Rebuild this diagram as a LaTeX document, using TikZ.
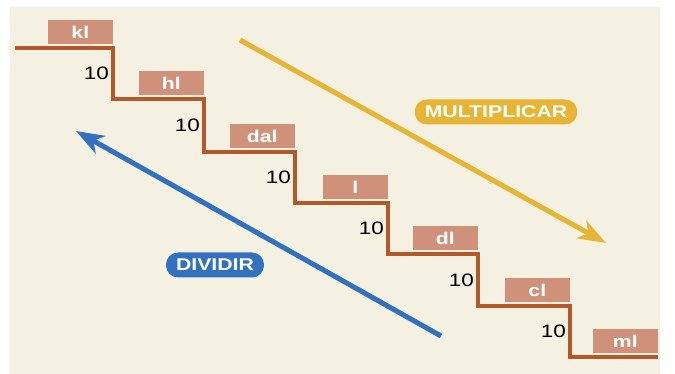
\documentclass[tikz,border=0pt]{standalone}
\usepackage{fontspec}
\setmainfont{Liberation Sans}[FakeStretch=1.25]
\usepackage{tikz}
\usetikzlibrary{positioning, arrows.meta}

\definecolor{paperbeige}{RGB}{245,241,226}
\definecolor{stairbrown}{RGB}{178,88,42}
\definecolor{boxrose}{RGB}{207,145,122}
\definecolor{multyellow}{RGB}{231,180,52}
\definecolor{divblue}{RGB}{50,112,192}

\begin{document}
\begin{tikzpicture}
    [
        x=1pt, y=-1pt,
        unit_box/.style={rectangle, fill=boxrose, text=white, font=\fontsize{17}{17}\selectfont\bfseries, minimum width=65pt, minimum height=24pt, inner sep=0pt, anchor=south east},
        ten_label/.style={anchor=east, inner sep=0pt, font=\fontsize{18}{18}\selectfont},
        stair_line/.style={line width=3.5pt, color=stairbrown, line join=miter},
        op_pill/.style={rectangle, rounded corners=12pt, text=white, font=\fontsize{17}{17}\selectfont\bfseries, minimum height=25pt, inner xsep=10pt},
        op_arrow/.style={-{Stealth[length=28pt, width=20pt, inset=8pt]}, line width=5pt},
    ]
        \useasboundingbox (0,0) rectangle (675,374) ;
        \fill[paperbeige] (10,7) rectangle (660,374) ;
        % staircase corners
        \coordinate (c0) at (15,48) ;
        \coordinate (c1) at (113,99) ;
        \coordinate (c2) at (204,152) ;
        \coordinate (c3) at (295,203) ;
        \coordinate (c4) at (388,254) ;
        \coordinate (c5) at (478,306) ;
        \coordinate (c6) at (570,357) ;
        \coordinate (c7) at (658,357) ;
        \draw[stair_line] (c0) -| (c1) -| (c2) -| (c3) -| (c4) -| (c5) -| (c6) -- (c7) ;
        % units
        \node[unit_box] (kl) at (113,44.5) {kl} ;
        \node[unit_box] (hl) at (204,95.5) {hl} ;
        \node[unit_box] (dal) at (295,148.5) {dal} ;
        \node[unit_box] (l) at (388,199.5) {l} ;
        \node[unit_box] (dl) at (478,250.5) {dl} ;
        \node[unit_box] (cl) at (570,302.5) {cl} ;
        \node[unit_box] (ml) at (658,353.5) {ml} ;
        % factors
        \node[ten_label] (f1) at (109,73.5) {10} ;
        \node[ten_label] (f2) at (200,125.5) {10} ;
        \node[ten_label] (f3) at (291,177.5) {10} ;
        \node[ten_label] (f4) at (384,228.5) {10} ;
        \node[ten_label] (f5) at (474,280) {10} ;
        \node[ten_label] (f6) at (566,331.5) {10} ;
        % operations
        \coordinate (mul_start) at (240,40) ;
        \coordinate (mul_end) at (606,243) ;
        \coordinate (div_start) at (441,336) ;
        \coordinate (div_end) at (76,131) ;
        \draw[op_arrow, color=multyellow] (mul_start) -- (mul_end) ;
        \draw[op_arrow, color=divblue] (div_start) -- (div_end) ;
        \node[op_pill, fill=multyellow] (mult) at (496,112) {MULTIPLICAR} ;
        \node[op_pill, fill=divblue] (div) at (215,265) {DIVIDIR} ;
    \end{tikzpicture}
\end{document}
